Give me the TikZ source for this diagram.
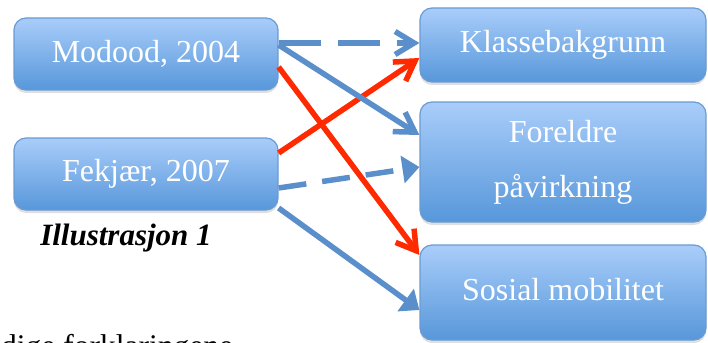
\documentclass[tikz,border=0pt]{standalone}
\usepackage{fontspec}
\setmainfont{Liberation Serif}
\usetikzlibrary{arrows.meta,shadows}
\definecolor{boxtop}{HTML}{A9CDFA}
\definecolor{boxbot}{HTML}{5797DA}
\definecolor{boxline}{HTML}{6A9BD3}
\definecolor{lineblue}{HTML}{5B8FCB}
\definecolor{linered}{HTML}{FF2A00}
\tikzset{
  box/.style={draw=boxline, line width=1.2pt, rounded corners=12pt,
    top color=boxtop, bottom color=boxbot, text=white,
    font=\fontsize{32}{55}\selectfont, inner sep=0pt, align=center,
    drop shadow={opacity=0.25, shadow xshift=0pt, shadow yshift=-3pt}},
  conn/.style={line width=5.5pt},
  bluec/.style={conn, draw=lineblue},
  redc/.style={conn, draw=linered},
  openhead/.style={-{Straight Barb[length=19pt,width=23pt]}},
  fillhead/.style={-{Triangle[length=17pt,width=27pt]}},
  dashA/.style={dash pattern=on 42pt off 17pt},
  dashB/.style={dash pattern=on 28pt off 16pt},
}
\begin{document}
\begin{tikzpicture}[x=1pt,y=-1pt]
\useasboundingbox (0,0) rectangle (708,342);
\clip (0,0) rectangle (708,342);
\node[box, minimum width=264pt, minimum height=72pt] (m) at (146,54) {Modood, 2004};
\node[box, minimum width=264pt, minimum height=72pt] (f) at (146,174) {Fekjær, 2007};
\node[box, minimum width=286pt, minimum height=74pt] (k) at (563,45) {Klassebakgrunn};
\node[box, minimum width=286pt, minimum height=120pt] (p) at (563,162) {Foreldre\\påvirkning};
\node[box, minimum width=286pt, minimum height=95pt, text depth=0pt] (s) at (563,292.5) {\raisebox{7pt}{Sosial mobilitet}};
\node[font=\fontsize{31}{32}\selectfont\bfseries\itshape] (cap) at (126,238) {Illustrasjon 1};
\node[font=\fontsize{31.5}{32}\selectfont, anchor=base west, inner sep=0pt] (body) at (1,356) {dige forklaringene};
% connectors
\draw[bluec, dashA, openhead] ([yshift=11pt]m.east) -- ([yshift=2pt]k.west);
\draw[bluec, dashB, fillhead] ([yshift=-14pt]f.east) -- ([yshift=-5pt]p.west);
\draw[bluec, fillhead] ([yshift=-34pt]f.east) -- ([yshift=-17.5pt]s.west);
\draw[redc, openhead] ([yshift=21pt]f.east) -- ([yshift=-13pt]k.west);
\draw[redc, openhead] ([yshift=-13pt]m.east) -- ([yshift=37.5pt]s.west);
\draw[bluec, openhead] ([yshift=9pt]m.east) -- ([yshift=27pt]p.west);
\end{tikzpicture}
\end{document}
